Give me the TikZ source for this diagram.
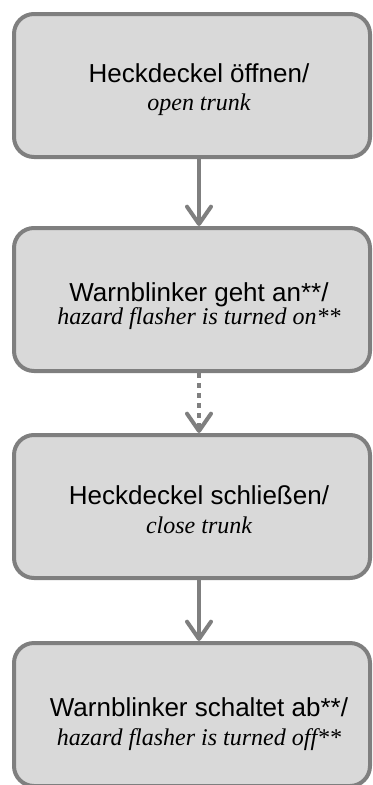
\documentclass[tikz,border=0pt]{standalone}
\usepackage{fontspec}
\setmainfont{Liberation Sans}
\newfontfamily\timesfont{Liberation Serif}
\usetikzlibrary{arrows.meta}

\definecolor{stepline}{RGB}{127,127,127}
\definecolor{stepfill}{RGB}{217,217,217}

\newcommand{\engl}[1]{{\timesfont\itshape\fontsize{18}{21.5}\selectfont #1}}

\tikzset{
  stepbox/.style={draw=stepline, fill=stepfill, line width=3pt, rounded corners=15pt,
    minimum width=267pt, minimum height=107.25pt, inner sep=0pt},
  steptext/.style={align=center, inner sep=0pt, font=\fontsize{19.5}{21.5}\selectfont},
  flow/.style={draw=stepline, line width=3pt, -{Straight Barb[round,length=13pt,width=18pt]}},
}

\begin{document}
\begin{tikzpicture}[x=0.75pt,y=0.75pt,yscale=-1]
\useasboundingbox (0,0) rectangle (372,785);

%Boxes
\node[stepbox] (s1) at (192,85.5) {};
\node[stepbox] (s2) at (192,299.5) {};
\node[stepbox] (s3) at (192,506.5) {};
\node[stepbox] (s4) at (192,714.5) {};

% Text Nodes
\node[steptext] (t1) at ([xshift=5.25pt,yshift=3pt]s1.center) {Heckdeckel öffnen/\\ \engl{open trunk}};
\node[steptext] (t2) at ([xshift=5.25pt,yshift=5pt]s2.center) {Warnblinker geht an**/\\[-4pt] \engl{hazard flasher is turned on**}};
\node[steptext] (t3) at ([xshift=5.25pt,yshift=2.5pt]s3.center) {Heckdeckel schließen/\\ \engl{close trunk}};
\node[steptext] (t4) at ([xshift=5.25pt,yshift=7pt]s4.center) {Warnblinker schaltet ab**/\\ \engl{hazard flasher is turned off**}};

%Arrows
\draw[flow] ([xshift=5.25pt]s1.south) -- ([xshift=5.25pt]s2.north);
\draw[flow, dash pattern=on 3.75pt off 3.75pt] ([xshift=5.25pt]s2.south) -- ([xshift=5.25pt]s3.north);
\draw[flow] ([xshift=5.25pt]s3.south) -- ([xshift=5.25pt]s4.north);

\end{tikzpicture}
\end{document}
